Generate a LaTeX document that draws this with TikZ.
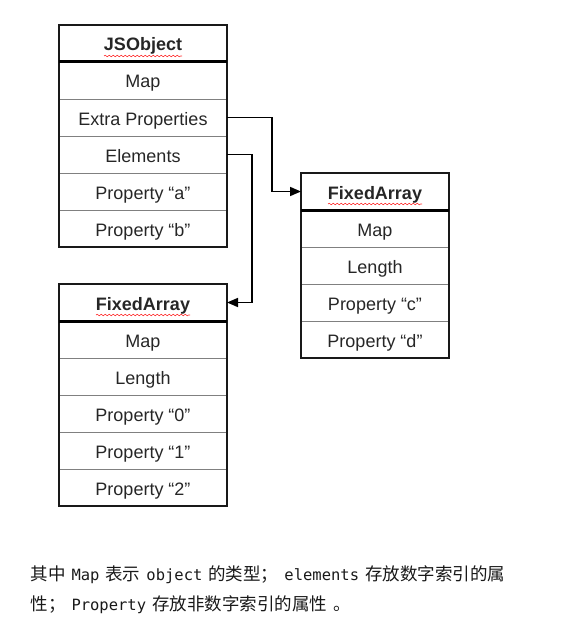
\documentclass[tikz,border=0pt]{standalone}
\usepackage{fontspec}
\newfontfamily\arial{Liberation Sans}
\newfontfamily\cjk{Noto Sans CJK SC}
\setmonofont{DejaVu Sans Mono}
\newcommand\zh[1]{{\cjk\fontsize{17.5}{20}\selectfont #1}}
\newcommand\gapw{\hspace{6pt}}
\usetikzlibrary{positioning,arrows.meta,decorations.pathmorphing}
\tikzset{
every picture/.style={
line width=1pt
}}

\begin{document}
\begin{tikzpicture}[x=1pt, y=-1pt,
cell/.style = {rectangle, draw=black!50, line width=0.8pt, minimum height=37pt, inner sep=0pt, outer sep=0pt, text height=18pt, text depth=3pt, text=black!85, font=\arial\fontsize{18}{20}\selectfont},
head/.style = {cell, font=\arial\bfseries\fontsize{18}{20}\selectfont},
frame/.style = {draw=black!90, line width=1.6pt},
rule/.style = {draw=black, line width=3pt},
squiggle/.style = {draw=red!80, line width=0.6pt, decorate, decoration={snake, amplitude=0.8pt, segment length=4pt}},
link/.style = {line width=1.6pt, -{Triangle[length=11pt,width=9pt]}},
note/.style = {anchor=west, inner sep=0pt, text=black!90, font=\ttfamily\fontsize{15.5}{18}\selectfont}]

\useasboundingbox (0,0) rectangle (577,634);

% JSObject
\node[head, minimum width=168pt] (jsHead) at (143,43.5) {JSObject};
\node[cell, minimum width=168pt, below=0pt of jsHead] (jsMap) {Map};
\node[cell, minimum width=168pt, below=0pt of jsMap] (jsExtra) {Extra Properties};
\node[cell, minimum width=168pt, below=0pt of jsExtra] (jsElem) {Elements};
\node[cell, minimum width=168pt, below=0pt of jsElem] (jsA) {Property “a”};
\node[cell, minimum width=168pt, below=0pt of jsA] (jsB) {Property “b”};
\draw[frame] (jsHead.north west) rectangle (jsB.south east);
\draw[rule] (jsHead.south west) -- (jsHead.south east);
\draw[squiggle] ([xshift=-39pt, yshift=-12.5pt]jsHead.center) -- ++(78,0);

% FixedArray for the extra properties
\node[head, minimum width=148pt] (propHead) at (375,191.5) {FixedArray};
\node[cell, minimum width=148pt, below=0pt of propHead] (propMap) {Map};
\node[cell, minimum width=148pt, below=0pt of propMap] (propLen) {Length};
\node[cell, minimum width=148pt, below=0pt of propLen] (propC) {Property “c”};
\node[cell, minimum width=148pt, below=0pt of propC] (propD) {Property “d”};
\draw[frame] (propHead.north west) rectangle (propD.south east);
\draw[rule] (propHead.south west) -- (propHead.south east);
\draw[squiggle] ([xshift=-47pt, yshift=-12.5pt]propHead.center) -- ++(94,0);

% FixedArray for the elements
\node[head, minimum width=168pt] (elemHead) at (143,302.5) {FixedArray};
\node[cell, minimum width=168pt, below=0pt of elemHead] (elemMap) {Map};
\node[cell, minimum width=168pt, below=0pt of elemMap] (elemLen) {Length};
\node[cell, minimum width=168pt, below=0pt of elemLen] (elemZero) {Property “0”};
\node[cell, minimum width=168pt, below=0pt of elemZero] (elemOne) {Property “1”};
\node[cell, minimum width=168pt, below=0pt of elemOne] (elemTwo) {Property “2”};
\draw[frame] (elemHead.north west) rectangle (elemTwo.south east);
\draw[rule] (elemHead.south west) -- (elemHead.south east);
\draw[squiggle] ([xshift=-47pt, yshift=-12.5pt]elemHead.center) -- ++(94,0);

% pointers
\draw[link] (jsExtra.east) -- ++(45,0) |- (propHead.west);
\draw[link] (jsElem.east) -- ++(25,0) |- (elemHead.east);

% caption
\node[note] (noteOne) at (30,575) {\zh{其中}\gapw Map\gapw\zh{表示}\gapw object\gapw\zh{的类型；}\gapw elements\gapw\zh{存放数字索引的属}};
\node[note] (noteTwo) at (30,605) {\zh{性；}\gapw Property\gapw\zh{存放非数字索引的属性}\gapw\zh{。}};
\end{tikzpicture}
\end{document}
